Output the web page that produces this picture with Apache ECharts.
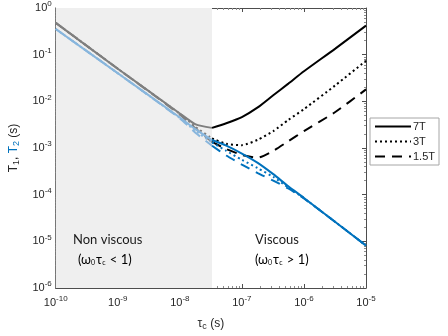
<!DOCTYPE html>
<html>
<head>
<meta charset="utf-8">
<script src="https://cdn.jsdelivr.net/npm/echarts@6/dist/echarts.min.js"></script>
<style>
  html, body { margin: 0; padding: 0; background: #fff; }
  #chart { width: 448px; height: 336px; }
</style>
</head>
<body>
<div id="chart"></div>
<script>
// correlation time tau_c (s)
const tau = [1e-10, 1e-9, 1e-8, 1.8e-8, 3.3e-8, 5.6e-8, 1e-7, 1.8e-7, 3.2e-7, 5.6e-7, 1e-6, 3.2e-6, 1e-5]
// omega0 * tau_c = 1 boundary
const viscousTau = 3.3e-8

// T1 (s)
const t1_7T = [0.48, 0.050, 5.5e-3, 3.2e-3, 2.7e-3, 3.4e-3, 4.6e-3, 7.4e-3, 0.0135, 0.024, 0.044, 0.135, 0.42]
const t1_3T = [0.48, 0.050, 5.4e-3, 2.8e-3, 1.6e-3, 1.23e-3, 1.15e-3, 1.5e-3, 2.3e-3, 4.0e-3, 6.8e-3, 0.022, 0.074]
const t1_15T = [0.48, 0.050, 5.2e-3, 2.6e-3, 1.35e-3, 9.5e-4, 7.1e-4, 6.2e-4, 8.7e-4, 1.4e-3, 2.3e-3, 5.9e-3, 0.018]
// T2 (s)
const t2_7T = [0.355, 0.040, 4.5e-3, 2.5e-3, 1.48e-3, 1.12e-3, 7.6e-4, 4.8e-4, 2.75e-4, 1.51e-4, 8.5e-5, 2.6e-5, 8.1e-6]
const t2_3T = [0.355, 0.040, 4.4e-3, 2.3e-3, 1.32e-3, 8.7e-4, 5.6e-4, 3.7e-4, 2.4e-4, 1.42e-4, 8.4e-5, 2.6e-5, 8.1e-6]
const t2_15T = [0.355, 0.040, 4.3e-3, 2.1e-3, 1.12e-3, 6.9e-4, 4.4e-4, 2.9e-4, 2.0e-4, 1.36e-4, 8.3e-5, 2.6e-5, 8.1e-6]

const fields = ['7T', '3T', '1.5T']

const chart = echarts.init(document.getElementById('chart'))

// split a curve at the viscous boundary
const part = (vals, viscous) =>
  tau.map((t, i) => [t, vals[i]]).filter(p => viscous ? p[0] >= viscousTau : p[0] <= viscousTau)

const dashes = { '7T': 'solid', '3T': [2, 3], '1.5T': [10, 7] }

const makeLine = (name, vals, viscous, color) => ({
  name: name,
  type: 'line',
  data: part(vals, viscous),
  showSymbol: false,
  symbol: 'none',
  smooth: 0.2,
  silent: true,
  lineStyle: { color: color, width: 2, type: dashes[name.split('-')[0]] },
  itemStyle: { color: color }
})

const expLabel = v => '{b|10}{e|' + Math.round(Math.log10(v)) + '}'
const labelRich = {
  b: { fontSize: 11, color: '#262626', fontFamily: 'Liberation Sans' },
  e: { fontSize: 8, color: '#262626', fontFamily: 'Liberation Sans', padding: [0, 0, 8, 0] }
}

const t1Curves = { '7T': t1_7T, '3T': t1_3T, '1.5T': t1_15T }
const t2Curves = { '7T': t2_7T, '3T': t2_3T, '1.5T': t2_15T }

const series = []
fields.forEach(f => {
  series.push(makeLine(f + '-g', t1Curves[f], false, '#7f7f7f'))
  series.push(makeLine(f, t1Curves[f], true, '#000000'))
})
fields.forEach(f => {
  series.push(makeLine(f + '-lb', t2Curves[f], false, '#88b6dd'))
  series.push(makeLine(f + '-b', t2Curves[f], true, '#0072bd'))
})
series[0].markArea = {
  silent: true,
  itemStyle: { color: '#efefef' },
  data: [[{ xAxis: 1e-10 }, { xAxis: viscousTau }]]
}

const minor = { show: true, splitNumber: 9, length: 2, lineStyle: { color: '#8c8c8c' } }

const sideAxis = {
  axisLine: { show: true, lineStyle: { color: '#4d4d4d' } },
  axisTick: { inside: true, length: 4, lineStyle: { color: '#4d4d4d' } },
  minorTick: minor,
  axisLabel: { show: false },
  splitLine: { show: false }
}

const noteRich = {
  a: { fontSize: 13, color: '#1a1a1a', fontFamily: 'Lato' },
  s: { fontSize: 7, color: '#1a1a1a', fontFamily: 'Lato', padding: [6, 1, 0, 0] }
}

const option = {
  animation: false,
  grid: { left: 52, right: 82, top: 6, bottom: 48 },
  legend: {
    data: fields,
    orient: 'vertical',
    left: 370,
    top: 118,
    backgroundColor: '#fff',
    borderColor: '#a6a6a6',
    borderWidth: 1,
    padding: [3, 4],
    itemGap: 4,
    itemWidth: 36,
    itemHeight: 13,
    itemStyle: { opacity: 0 },
    textStyle: { fontSize: 11, color: '#262626', fontFamily: 'Liberation Sans', padding: [0, 0, 0, -3] }
  },
  xAxis: [
    {
      type: 'log', logBase: 10, min: 1e-10, max: 1e-5, splitNumber: 5,
      name: '{t|τ}{s|c}{t| (s)}',
      nameLocation: 'middle', nameGap: 28,
      nameTextStyle: {
        rich: {
          t: { fontSize: 12, color: '#262626', fontFamily: 'Liberation Sans' },
          s: { fontSize: 9, color: '#262626', fontFamily: 'Liberation Sans', padding: [6, 0, 0, 0] }
        }
      },
      axisLine: { show: true, lineStyle: { color: '#4d4d4d' } },
      axisTick: { inside: true, length: 4, lineStyle: { color: '#4d4d4d' } },
      minorTick: minor,
      axisLabel: { formatter: expLabel, rich: labelRich, margin: 7 },
      splitLine: { show: false }
    },
    Object.assign({ type: 'log', logBase: 10, min: 1e-10, max: 1e-5, splitNumber: 5, position: 'top' }, sideAxis)
  ],
  yAxis: [
    {
      type: 'log', logBase: 10, min: 1e-6, max: 1, splitNumber: 6,
      name: '{k|T}{ks|1}{k|, }{b|T}{bs|2}{k| (s)}',
      nameLocation: 'middle', nameGap: 34,
      nameTextStyle: {
        rich: {
          k: { fontSize: 12, color: '#262626', fontFamily: 'Liberation Sans' },
          ks: { fontSize: 9, color: '#262626', fontFamily: 'Liberation Sans', padding: [6, 0, 0, 0] },
          b: { fontSize: 12, color: '#0072bd', fontFamily: 'Liberation Sans' },
          bs: { fontSize: 9, color: '#0072bd', fontFamily: 'Liberation Sans', padding: [6, 0, 0, 0] }
        }
      },
      axisLine: { show: true, lineStyle: { color: '#4d4d4d' } },
      axisTick: { inside: true, length: 4, lineStyle: { color: '#4d4d4d' } },
      minorTick: minor,
      axisLabel: { formatter: expLabel, rich: labelRich, margin: 4 },
      splitLine: { show: false }
    },
    Object.assign({ type: 'log', logBase: 10, min: 1e-6, max: 1, splitNumber: 6, position: 'right' }, sideAxis)
  ],
  graphic: [
    {
      type: 'text', left: 73, top: 233, z: 50,
      style: { text: 'Non viscous', fontSize: 13, fill: '#1a1a1a', fontFamily: 'Lato' }
    },
    {
      type: 'text', left: 78, top: 253, z: 50,
      style: { text: '{a|(ω}{s|0}{a|τ}{s|c}{a| < 1)}', rich: noteRich }
    },
    {
      type: 'text', left: 255, top: 233, z: 50,
      style: { text: 'Viscous', fontSize: 13, fill: '#1a1a1a', fontFamily: 'Lato' }
    },
    {
      type: 'text', left: 255, top: 253, z: 50,
      style: { text: '{a|(ω}{s|0}{a|τ}{s|c}{a| > 1)}', rich: noteRich }
    }
  ],
  series: series
}

chart.setOption(option)
</script>
</body>
</html>
